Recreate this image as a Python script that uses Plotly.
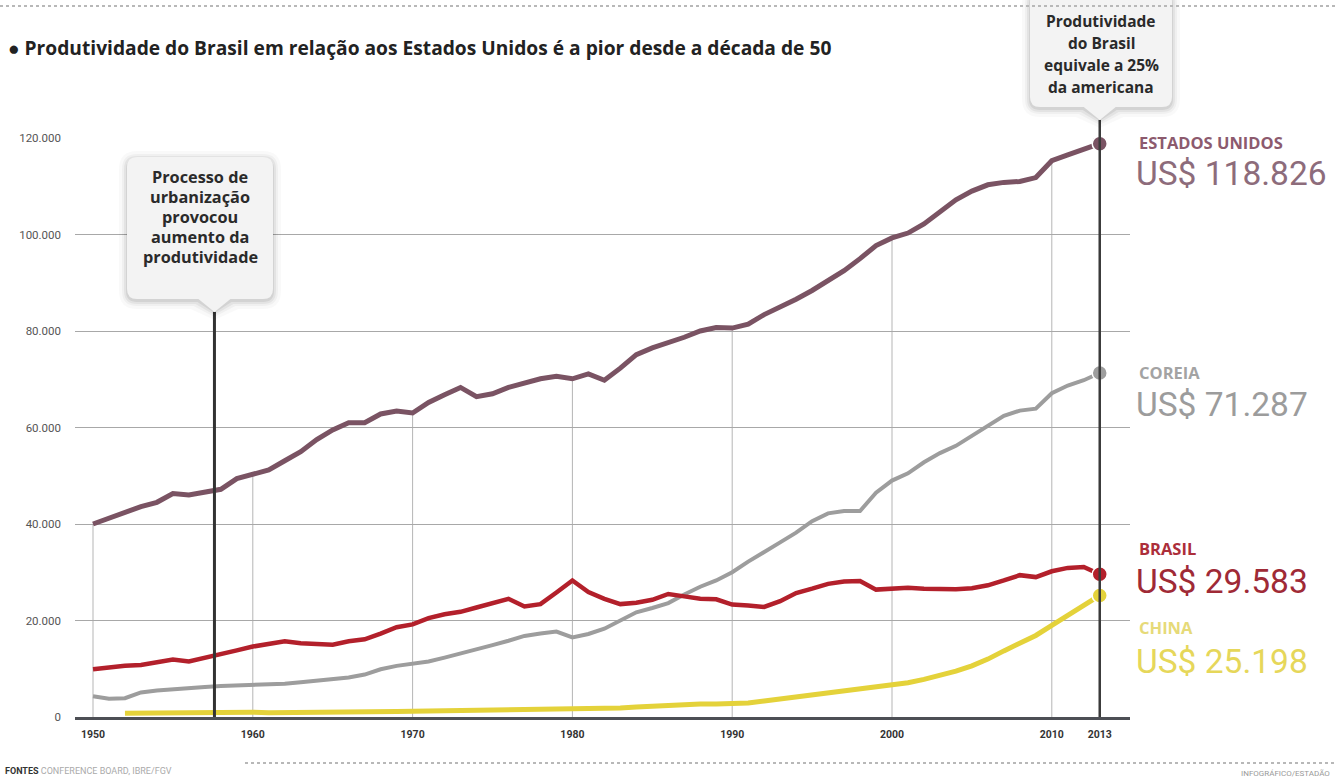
import plotly.graph_objects as go

# ---------------- data ----------------
YEARS = list(range(1950, 2014))

USA = [40000, 41200, 42300, 43600, 44500, 46300, 46000, 46500, 47200, 49400,
       50200, 51200, 53100, 55000, 57500, 59500, 61000, 61000, 62800, 63400,
       63000, 65200, 66800, 68300, 66400, 67000, 68300, 69200, 70100, 70600,
       70100, 71100, 69800, 72300, 75100, 76500, 77500, 78700, 80000, 80700,
       80600, 81400, 83400, 84900, 86600, 88400, 90400, 92500, 95000, 97700,
       99300, 100300, 102200, 104600, 107200, 109000, 110300, 110800, 111000, 111800,
       115300, 116500, 117600, 118826]

COREIA = [4300, 3800, 3900, 5100, 5500, 5800, 6000, 6200, 6400, 6500,
          6700, 6800, 6900, 7200, 7500, 7700, 8200, 8800, 9900, 10600,
          11000, 11500, 12300, 13100, 14000, 14900, 15800, 16800, 17300, 17700,
          16500, 17200, 18300, 20000, 21700, 22600, 23600, 25400, 27000, 28300,
          30000, 32200, 34300, 36200, 38200, 40600, 42200, 42700, 42700, 46500,
          49000, 50500, 52800, 54700, 56200, 58300, 60500, 62400, 63500, 63900,
          67100, 68700, 69800, 71287]

BRASIL = [9900, 10300, 10600, 10800, 11300, 11900, 11500, 12200, 13000, 13800,
          14600, 15200, 15700, 15300, 15200, 15000, 15700, 16100, 17300, 18600,
          19200, 20500, 21300, 21800, 22700, 23500, 24500, 22900, 23400, 25800,
          28300, 25900, 24500, 23400, 23700, 24300, 25500, 25000, 24500, 24400,
          23300, 23100, 22800, 24000, 25700, 26600, 27600, 28100, 28200, 26400,
          26700, 26800, 26600, 26500, 26500, 26700, 27300, 28300, 29400, 29000,
          30200, 30900, 31100, 29583]

CHINA = [None, None, 800, 850, 850, 900, 950, 950, 1050, 1050,
         1000, 900, 900, 950, 1000, 1050, 1100, 1050, 1050, 1150,
         1200, 1250, 1250, 1300, 1300, 1350, 1350, 1400, 1500, 1550,
         1600, 1650, 1750, 1850, 2050, 2250, 2350, 2550, 2700, 2700,
         2700, 2900, 3300, 3700, 4100, 4500, 4900, 5300, 5700, 6100,
         6600, 7100, 7800, 8600, 9500, 10600, 12000, 13700, 15200, 16900,
         19000, 21000, 23000, 25198]

SERIES_NAMES = ["ESTADOS UNIDOS", "COREIA", "BRASIL", "CHINA"]
END_LABELS = ["US$ 118.826", "US$ 71.287", "US$ 29.583", "US$ 25.198"]

Y_TICKS = [0, 20000, 40000, 60000, 80000, 100000, 120000]
Y_LABELS = ["0", "20.000", "40.000", "60.000", "80.000", "100.000", "120.000"]
X_TICKS = [1950, 1960, 1970, 1980, 1990, 2000, 2010, 2013]
X_LABELS = ["1950", "1960", "1970", "1980", "1990", "2000", "2010", "2013"]
DECADES = [1950, 1960, 1970, 1980, 1990, 2000, 2010]

TITLE = "● Produtividade do Brasil em relação aos Estados Unidos é a pior desde a década de 50"
NOTE_1 = ["Processo de", "urbanização", "provocou", "aumento da", "produtividade"]
NOTE_1_YEAR = 1957.6
NOTE_2 = ["Produtividade", "do Brasil", "equivale a 25%", "da americana"]

# ---------------- style ----------------
COLORS = ["#7a5363", "#9d9d9d", "#b3202b", "#e4d23a"]
LABEL_COLORS = ["#8c5a6e", "#a3a3a3", "#ac2e3a", "#e6da78"]
VALUE_COLORS = ["#8d6c7b", "#9c9c9c", "#9f2a36", "#e6d75a"]
WIDTHS = [5, 4, 4.5, 5]
FONT = "Roboto"
FONT_B = "Open Sans"

W, H = 1335, 781
L, R, T, B = 75, 1130, 138, 717
PXYR = 15.98
X0 = 1950 - 18 / PXYR
X1 = X0 + (R - L) / PXYR


def px(x):
    return (x - L) / (R - L)


def py(y):
    return (B - y) / (B - T)


fig = go.Figure()

series = [USA, COREIA, BRASIL, CHINA]
for name, vals, col, w in zip(SERIES_NAMES, series, COLORS, WIDTHS):
    fig.add_trace(go.Scatter(x=YEARS, y=vals, mode="lines", name=name,
                             line=dict(color=col, width=w), cliponaxis=False,
                             hoverinfo="skip", showlegend=False))

shapes = []
for d in DECADES:
    shapes.append(dict(type="line", xref="x", yref="y", x0=d, x1=d, y0=0,
                       y1=USA[YEARS.index(d)], line=dict(color="#b5b5b5", width=1),
                       layer="below"))

shapes.append(dict(type="rect", xref="paper", yref="paper", x0=px(100), x1=px(280),
                   y0=py(334), y1=py(330), fillcolor="white", line=dict(width=0),
                   layer="below"))

shapes.append(dict(type="line", xref="x", yref="paper", x0=YEARS[-1], x1=YEARS[-1],
                   y0=0, y1=py(120), line=dict(color="#3a3a3a", width=2.5)))

shapes.append(dict(type="line", xref="x", yref="paper", x0=NOTE_1_YEAR, x1=NOTE_1_YEAR,
                   y0=0, y1=py(312), line=dict(color="#333333", width=3)))


def box_path(x0, y0, x1, y1, r, tx, ty, tw):
    def P(x, y):
        return f"{px(x):.5f},{py(y):.5f}"
    s = f"M {P(x0 + r, y0)} L {P(x1 - r, y0)} Q {P(x1, y0)} {P(x1, y0 + r)} "
    s += f"L {P(x1, y1 - r)} Q {P(x1, y1)} {P(x1 - r, y1)} "
    s += f"L {P(tx + tw, y1)} L {P(tx, ty)} L {P(tx - tw, y1)} "
    s += f"L {P(x0 + r, y1)} Q {P(x0, y1)} {P(x0, y1 - r)} "
    s += f"L {P(x0, y0 + r)} Q {P(x0, y0)} {P(x0 + r, y0)} Z"
    return s


def add_box(x0, y0, x1, y1, tx, ty):
    for k, a in [(8, 0.025), (5, 0.035), (3, 0.05), (1, 0.07)]:
        shapes.append(dict(type="path", xref="paper", yref="paper",
                           path=box_path(x0 - k, y0 - k + 2, x1 + k, y1 + k + 2, 10 + k, tx, ty + k, 16 + k),
                           fillcolor=f"rgba(0,0,0,{a})", line=dict(width=0)))
    shapes.append(dict(type="path", xref="paper", yref="paper",
                       path=box_path(x0, y0, x1, y1, 10, tx, ty, 16),
                       fillcolor="#f3f3f3", line=dict(width=0)))


note1_x = 93 + (NOTE_1_YEAR - 1950) * PXYR
end_x = 93 + (YEARS[-1] - 1950) * PXYR
add_box(127, 157, 273, 299, note1_x, 312)
add_box(1030, -8, 1172, 107, end_x, 120)

shapes.append(dict(type="line", xref="paper", yref="paper", x0=px(0), x1=px(1335),
                   y0=py(6), y1=py(6), line=dict(color="#b8b8b8", width=2, dash="dot")))
shapes.append(dict(type="line", xref="paper", yref="paper", x0=px(245), x1=px(1335),
                   y0=py(763), y1=py(763), line=dict(color="#b8b8b8", width=2, dash="dot")))

for vals, col in zip(series, COLORS):
    fig.add_trace(go.Scatter(x=[YEARS[-1]], y=[vals[-1]], mode="markers",
                             marker=dict(color=col, size=15, line=dict(color="white", width=1.5)),
                             cliponaxis=False, hoverinfo="skip", showlegend=False))

annotations = []
annotations.append(dict(xref="paper", yref="paper", x=px(6), y=py(48), xanchor="left",
                        yanchor="middle", showarrow=False, text=f"<b>{TITLE}</b>",
                        font=dict(family=FONT_B, size=19.2, color="#222222")))

for i, line in enumerate(NOTE_1):
    annotations.append(dict(xref="paper", yref="paper", x=px(200), y=py(177 + i * 20),
                            xanchor="center", yanchor="middle", showarrow=False,
                            text=f"<b>{line}</b>", font=dict(family=FONT_B, size=16.3, color="#2a2a2a")))
for i, line in enumerate(NOTE_2):
    annotations.append(dict(xref="paper", yref="paper", x=px(1101), y=py(21 + i * 22),
                            xanchor="center", yanchor="middle", showarrow=False,
                            text=f"<b>{line}</b>", font=dict(family=FONT_B, size=15.5, color="#2a2a2a")))

label_y = [142, 372, 548, 627]
value_y = [173, 404, 581, 661]
for name, val, ly, vy, lc, vc in zip(SERIES_NAMES, END_LABELS, label_y, value_y, LABEL_COLORS, VALUE_COLORS):
    annotations.append(dict(xref="paper", yref="paper", x=px(1137), y=py(ly), xanchor="left",
                            yanchor="middle", showarrow=False, text=f"<b>{name}</b>",
                            font=dict(family=FONT_B, size=16.5, color=lc)))
    annotations.append(dict(xref="paper", yref="paper", x=px(1134), y=py(vy), xanchor="left",
                            yanchor="middle", showarrow=False, text=val,
                            font=dict(family=FONT, size=33.5, color=vc)))

annotations.append(dict(xref="paper", yref="paper", x=px(3), y=py(771), xanchor="left",
                        yanchor="middle", showarrow=False,
                        text="<b>FONTES</b> <span style='color:#aaaaaa'>CONFERENCE BOARD, IBRE/FGV</span>",
                        font=dict(family=FONT, size=9, color="#333333")))
annotations.append(dict(xref="paper", yref="paper", x=px(1332), y=py(773), xanchor="right",
                        yanchor="middle", showarrow=False, text="INFOGRÁFICO/ESTADÃO",
                        font=dict(family=FONT, size=8, color="#999999")))

fig.update_layout(
    width=W, height=H, autosize=False,
    margin=dict(l=L, r=W - R, t=T, b=H - B, pad=0),
    paper_bgcolor="white", plot_bgcolor="white",
    shapes=shapes, annotations=annotations,
    xaxis=dict(range=[X0, X1], tickvals=X_TICKS, ticktext=X_LABELS, showgrid=False,
               zeroline=False, showline=True, linecolor="#4d4f55", linewidth=3,
               ticks="", ticklabelstandoff=5,
               tickfont=dict(family=FONT, size=10.5, color="#333333", weight="bold")),
    yaxis=dict(range=[0, 120000], tickvals=Y_TICKS, ticktext=Y_LABELS, showgrid=True,
               gridcolor="#a8a8a8", gridwidth=1, zeroline=False, showline=False,
               ticks="", ticklabelstandoff=13,
               tickfont=dict(family=FONT, size=11.5, color="#555555")),
    hovermode=False,
)

fig.write_html("out.html", config={"displayModeBar": False, "staticPlot": True},
               post_script="document.body.style.margin='0px';")
